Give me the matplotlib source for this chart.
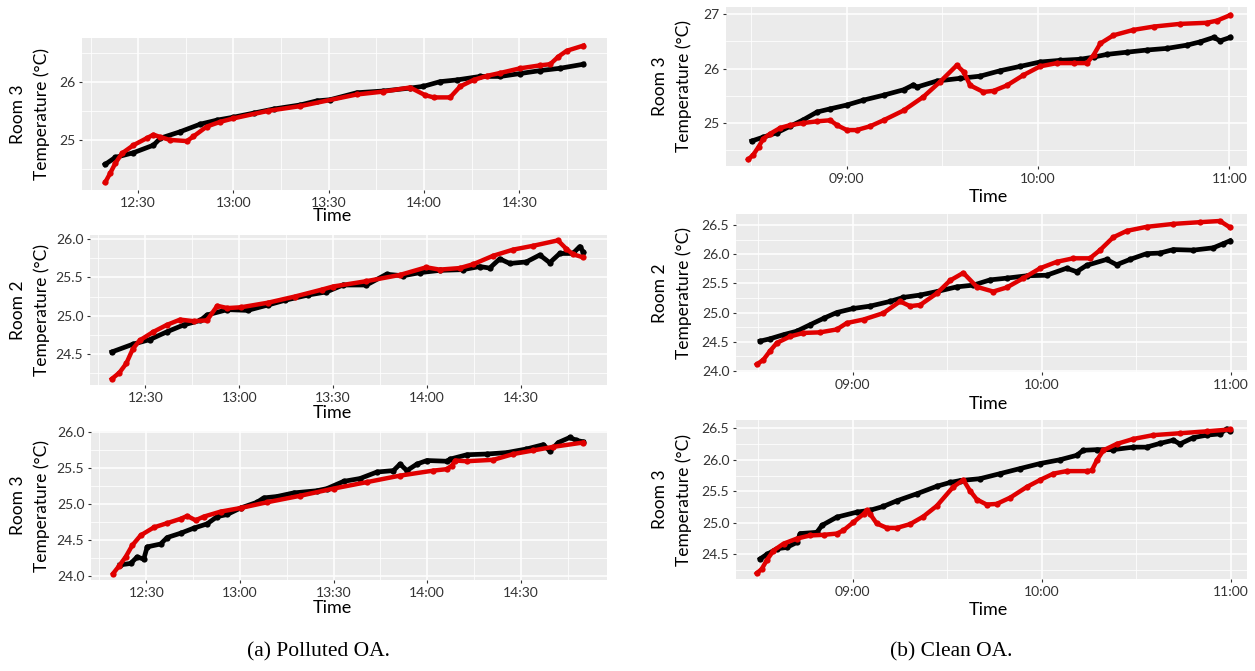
import matplotlib
matplotlib.use("Agg")
import matplotlib.pyplot as plt
from matplotlib.ticker import FixedLocator, FixedFormatter

plt.rcParams['font.family'] = ['Lato', 'DejaVu Sans']


def hm(s):
    h, m = s.split(':')
    return int(h) * 60 + int(m)


# times are minutes after midnight, values in degC
# black = measured, red = simulated

# (a) Polluted OA, Room 3 (top)
a1_meas_t = [739.6, 742.8, 748.5, 754.8, 757.0, 763.2, 769.5, 774.8, 780.0, 786.3, 792.6, 801.0, 806.2,
             810.4, 818.8, 827.2, 835.6, 839.8, 845.0, 850.3, 857.7, 864.0, 870.3, 876.5, 882.8, 890.2]
a1_meas_v = [24.58, 24.70, 24.78, 24.91, 25.03, 25.14, 25.27, 25.34, 25.39, 25.46, 25.53, 25.60, 25.67,
             25.69, 25.81, 25.84, 25.89, 25.92, 26.00, 26.03, 26.09, 26.09, 26.14, 26.19, 26.23, 26.30]
a1_sim_t = [739.6, 741.2, 742.8, 744.9, 748.5, 752.7, 754.8, 756.9, 760.0, 765.3, 767.4, 771.6, 775.8,
            780.0, 791.0, 801.0, 818.8, 827.2, 835.6, 840.3, 843.0, 848.2, 851.4, 855.6, 859.8, 864.0,
            870.3, 876.5, 879.7, 882.3, 884.9, 890.2]
a1_sim_v = [24.27, 24.43, 24.60, 24.77, 24.91, 25.03, 25.09, 25.05, 25.00, 24.98, 25.06, 25.23, 25.31,
            25.37, 25.50, 25.58, 25.78, 25.83, 25.90, 25.77, 25.73, 25.73, 25.92, 26.03, 26.10, 26.15,
            26.23, 26.28, 26.30, 26.43, 26.53, 26.62]

# (a) Polluted OA, Room 2
a2_meas_t = [739.3, 746.0, 751.4, 756.8, 762.2, 767.6, 769.7, 776.2, 782.7, 789.2, 794.5, 802.1, 807.9,
             813.2, 820.7, 827.1, 832.4, 837.7, 844.1, 851.6, 856.9, 860.1, 863.3, 866.5, 871.8, 876.1,
             879.3, 882.5, 886.7, 888.9, 890.0]
a2_meas_v = [24.53, 24.63, 24.69, 24.79, 24.88, 24.94, 25.01, 25.08, 25.07, 25.14, 25.20, 25.27, 25.31,
             25.40, 25.40, 25.54, 25.52, 25.56, 25.59, 25.60, 25.64, 25.62, 25.74, 25.68, 25.70, 25.79,
             25.69, 25.81, 25.81, 25.90, 25.83]
a2_sim_t = [739.3, 741.7, 743.9, 746.0, 748.2, 752.5, 756.8, 761.1, 765.4, 769.7, 773.0, 776.2, 780.5,
            789.2, 797.8, 806.4, 810.0, 820.7, 831.3, 839.8, 844.1, 850.5, 854.8, 861.2, 867.6, 874.0,
            881.9, 884.6, 886.7, 889.9]
a2_sim_v = [24.18, 24.26, 24.38, 24.57, 24.68, 24.79, 24.88, 24.95, 24.93, 24.94, 25.13, 25.10, 25.11,
            25.17, 25.25, 25.34, 25.38, 25.45, 25.53, 25.63, 25.60, 25.62, 25.67, 25.78, 25.86, 25.91,
            25.98, 25.87, 25.80, 25.76]

# (a) Polluted OA, Room 3 (bottom)
a3_meas_t = [741.6, 745.0, 747.1, 749.2, 750.3, 754.6, 756.7, 761.0, 765.2, 769.5, 772.7, 775.9, 780.2,
             785.5, 787.6, 791.9, 797.2, 804.7, 807.9, 813.2, 818.5, 823.9, 829.2, 831.3, 833.5, 836.7,
             839.9, 846.3, 847.4, 852.7, 859.1, 865.5, 871.8, 877.2, 879.3, 882.0, 885.7, 887.8, 890.0]
a3_meas_v = [24.15, 24.17, 24.26, 24.23, 24.40, 24.44, 24.53, 24.59, 24.66, 24.72, 24.82, 24.85, 24.94,
             25.02, 25.08, 25.10, 25.15, 25.18, 25.21, 25.31, 25.35, 25.44, 25.46, 25.55, 25.46, 25.55,
             25.60, 25.59, 25.62, 25.68, 25.69, 25.71, 25.76, 25.82, 25.73, 25.85, 25.92, 25.88, 25.86]
a3_sim_t = [739.4, 741.2, 743.4, 745.5, 748.2, 752.4, 756.7, 761.0, 763.1, 765.8, 768.4, 773.8, 780.2,
            788.7, 799.3, 810.0, 820.7, 831.3, 842.0, 846.3, 847.9, 849.0, 852.7, 861.2, 867.6, 874.0,
            880.4, 890.0]
a3_sim_v = [24.03, 24.13, 24.26, 24.42, 24.56, 24.67, 24.73, 24.79, 24.83, 24.77, 24.82, 24.89, 24.94,
            25.02, 25.11, 25.21, 25.30, 25.39, 25.46, 25.48, 25.53, 25.60, 25.59, 25.61, 25.69, 25.74,
            25.79, 25.85]

# (b) Clean OA, Room 3 (top)
b1_meas_t = [510.2, 513.8, 518.0, 522.2, 526.4, 530.6, 534.8, 540.0, 545.2, 551.5, 557.8, 560.9, 562.0,
             568.2, 575.5, 581.8, 588.1, 594.4, 600.6, 606.9, 613.2, 617.4, 621.6, 627.8, 634.1, 640.4,
             646.7, 650.8, 655.0, 657.1, 660.2]
b1_meas_v = [24.67, 24.74, 24.82, 24.94, 25.06, 25.20, 25.26, 25.33, 25.42, 25.51, 25.61, 25.70, 25.66,
             25.77, 25.82, 25.86, 25.96, 26.04, 26.12, 26.15, 26.17, 26.21, 26.26, 26.30, 26.34, 26.37,
             26.43, 26.49, 26.57, 26.51, 26.57]
b1_sim_t = [509.1, 510.7, 512.3, 513.8, 515.9, 519.1, 522.2, 526.4, 530.6, 534.8, 536.9, 540.0, 543.1,
            547.3, 551.5, 557.8, 564.0, 569.3, 574.5, 576.6, 578.7, 582.8, 586.0, 590.2, 595.4, 600.6,
            605.9, 611.1, 615.3, 617.4, 619.5, 623.6, 629.9, 636.2, 644.5, 652.9, 656.1, 660.2]
b1_sim_v = [24.33, 24.42, 24.56, 24.71, 24.80, 24.91, 24.96, 25.00, 25.03, 25.05, 24.96, 24.87, 24.87,
            24.94, 25.05, 25.23, 25.48, 25.76, 26.06, 25.94, 25.69, 25.57, 25.59, 25.69, 25.88, 26.04,
            26.10, 26.10, 26.10, 26.25, 26.46, 26.61, 26.71, 26.77, 26.82, 26.84, 26.88, 26.98]

# (b) Clean OA, Room 2
b2_meas_t = [510.6, 513.7, 518.0, 522.2, 526.4, 530.7, 534.9, 540.2, 545.5, 551.8, 556.1, 561.4, 566.7,
             573.0, 578.3, 583.6, 588.9, 595.2, 601.6, 607.9, 611.1, 614.3, 620.6, 623.8, 628.0, 633.3,
             637.6, 641.8, 648.1, 654.5, 657.6, 659.8]
b2_meas_v = [24.51, 24.55, 24.62, 24.68, 24.79, 24.90, 25.00, 25.07, 25.11, 25.19, 25.26, 25.30, 25.36,
             25.44, 25.47, 25.56, 25.59, 25.63, 25.64, 25.76, 25.70, 25.81, 25.91, 25.82, 25.91, 26.01,
             26.02, 26.08, 26.07, 26.11, 26.18, 26.23]
b2_sim_t = [509.5, 511.6, 513.7, 515.9, 520.1, 524.3, 529.6, 534.9, 538.1, 543.4, 549.7, 555.0, 558.2,
            561.4, 566.7, 570.9, 575.1, 579.4, 584.6, 588.9, 594.2, 599.5, 604.8, 610.0, 615.3, 618.5,
            622.7, 627.0, 633.3, 641.8, 650.3, 656.6, 659.8]
b2_sim_v = [24.11, 24.19, 24.34, 24.48, 24.59, 24.65, 24.66, 24.71, 24.82, 24.88, 24.99, 25.19, 25.11,
            25.13, 25.33, 25.55, 25.68, 25.44, 25.36, 25.43, 25.59, 25.76, 25.87, 25.93, 25.93, 26.07,
            26.29, 26.40, 26.47, 26.52, 26.55, 26.57, 26.46]

# (b) Clean OA, Room 3 (bottom)
b3_meas_t = [510.6, 512.7, 515.9, 519.0, 522.2, 523.3, 528.6, 530.2, 534.9, 541.3, 545.5, 549.7, 554.0,
             560.3, 566.7, 570.9, 574.1, 580.4, 586.8, 593.1, 599.5, 605.8, 611.1, 613.2, 617.5, 622.7,
             629.1, 633.3, 637.6, 641.8, 643.9, 648.1, 652.4, 656.6, 658.7, 659.8]
b3_meas_v = [24.43, 24.50, 24.59, 24.61, 24.69, 24.83, 24.85, 24.96, 25.09, 25.17, 25.20, 25.26, 25.35,
             25.46, 25.58, 25.64, 25.67, 25.70, 25.78, 25.86, 25.94, 26.00, 26.07, 26.15, 26.16, 26.16,
             26.20, 26.20, 26.26, 26.31, 26.25, 26.35, 26.39, 26.41, 26.49, 26.46]
b3_sim_t = [509.5, 511.1, 512.7, 514.8, 518.0, 522.2, 526.4, 530.7, 534.9, 537.0, 540.2, 543.4, 544.4,
            545.5, 547.6, 550.8, 554.0, 558.2, 562.4, 566.7, 571.9, 575.1, 577.2, 579.4, 582.5, 585.7,
            590.0, 595.3, 599.5, 603.7, 607.9, 614.3, 615.9, 617.5, 619.6, 623.8, 629.1, 635.4, 643.9,
            652.4, 659.8]
b3_sim_v = [24.20, 24.27, 24.41, 24.56, 24.67, 24.75, 24.80, 24.81, 24.83, 24.88, 25.01, 25.14, 25.20,
            25.14, 24.99, 24.92, 24.92, 24.98, 25.10, 25.27, 25.57, 25.68, 25.51, 25.37, 25.29, 25.30,
            25.40, 25.57, 25.68, 25.78, 25.82, 25.82, 25.83, 25.99, 26.15, 26.25, 26.33, 26.39, 26.42,
            26.45, 26.48]

# tick labels
a_xticks = ['12:30', '13:00', '13:30', '14:00', '14:30']
a_xminor = ['12:15', '12:45', '13:15', '13:45', '14:15', '14:45']
b_xticks = ['09:00', '10:00', '11:00']
b_xminor = ['08:30', '09:30', '10:30']

W, H = 1255, 671
fig = plt.figure(figsize=(W / 100, H / 100), dpi=100)

BG = '#EBEBEB'
RED = '#E00000'
TXT = '#333333'


def make_ax(box):
    l, t, r, b = box
    ax = fig.add_axes([l / W, 1 - b / H, (r - l) / W, (b - t) / H])
    ax.set_facecolor(BG)
    for s in ax.spines.values():
        s.set_visible(False)
    ax.set_axisbelow(True)
    ax.grid(which='major', color='white', lw=1.1)
    ax.grid(which='minor', color='white', lw=0.55)
    ax.tick_params(which='major', length=2.3, width=0.8, color=TXT, labelcolor=TXT,
                   labelsize=10, pad=2.5)
    ax.tick_params(which='minor', length=0)
    return ax


panels = [
    # box (l, t, r, b) px, data, xlim, ylim, yticks, yminor, fmt, room, ylabel x's, Time pos
    dict(box=(82, 38, 607, 190), d=(a1_meas_t, a1_meas_v, a1_sim_t, a1_sim_v), xl=(732.3, 897.6),
         yl=(24.14, 26.75), yt=[25, 26], ym=[24.5, 25.5, 26.5], fmt='{:.0f}', room='Room 3',
         xt=a_xticks, xm=a_xminor, lab=(18, 42), time=(332, 216)),
    dict(box=(90, 235, 607, 385), d=(a2_meas_t, a2_meas_v, a2_sim_t, a2_sim_v), xl=(732.3, 897.6),
         yl=(24.10, 26.05), yt=[24.5, 25.0, 25.5, 26.0], ym=[24.25, 24.75, 25.25, 25.75], fmt='{:.1f}',
         room='Room 2', xt=a_xticks, xm=a_xminor, lab=(18, 42), time=(332, 413)),
    dict(box=(91, 431, 607, 580), d=(a3_meas_t, a3_meas_v, a3_sim_t, a3_sim_v), xl=(732.3, 897.6),
         yl=(23.94, 26.01), yt=[24.0, 24.5, 25.0, 25.5, 26.0], ym=[24.25, 24.75, 25.25, 25.75],
         fmt='{:.1f}', room='Room 3', xt=a_xticks, xm=a_xminor, lab=(18, 42), time=(332, 608)),
    dict(box=(726, 7, 1247, 166), d=(b1_meas_t, b1_meas_v, b1_sim_t, b1_sim_v), xl=(502.1, 665.5),
         yl=(24.21, 27.13), yt=[25, 26, 27], ym=[24.5, 25.5, 26.5], fmt='{:.0f}', room='Room 3',
         xt=b_xticks, xm=b_xminor, lab=(660, 684), time=(988, 197)),
    dict(box=(736, 214, 1247, 372), d=(b2_meas_t, b2_meas_v, b2_sim_t, b2_sim_v), xl=(502.9, 665.2),
         yl=(23.98, 26.69), yt=[24.0, 24.5, 25.0, 25.5, 26.0, 26.5],
         ym=[24.25, 24.75, 25.25, 25.75, 26.25], fmt='{:.1f}', room='Room 2',
         xt=b_xticks, xm=b_xminor, lab=(660, 684), time=(988, 404)),
    dict(box=(736, 420, 1247, 579), d=(b3_meas_t, b3_meas_v, b3_sim_t, b3_sim_v), xl=(502.9, 665.2),
         yl=(24.11, 26.63), yt=[24.5, 25.0, 25.5, 26.0, 26.5], ym=[24.25, 24.75, 25.25, 25.75, 26.25],
         fmt='{:.1f}', room='Room 3', xt=b_xticks, xm=b_xminor, lab=(660, 684), time=(988, 610)),
]

for p in panels:
    ax = make_ax(p['box'])
    mt, mv, st, sv = p['d']
    ax.plot(mt, mv, color='black', lw=3.4, marker='o', ms=4.5, mew=0, solid_joinstyle='round')
    ax.plot(st, sv, color=RED, lw=3.2, marker='o', ms=4.5, mew=0, solid_joinstyle='round')
    ax.set_xlim(*p['xl'])
    ax.set_ylim(*p['yl'])
    ax.xaxis.set_major_locator(FixedLocator([hm(s) for s in p['xt']]))
    ax.xaxis.set_major_formatter(FixedFormatter(p['xt']))
    ax.xaxis.set_minor_locator(FixedLocator([hm(s) for s in p['xm']]))
    ax.yaxis.set_major_locator(FixedLocator(p['yt']))
    ax.yaxis.set_major_formatter(FixedFormatter([p['fmt'].format(v) for v in p['yt']]))
    ax.yaxis.set_minor_locator(FixedLocator(p['ym']))

    l, t, r, b = p['box']
    yc = 1 - (t + b) / 2 / H
    fig.text(p['lab'][0] / W, yc, p['room'], rotation=90, ha='center', va='center',
             fontsize=12.5, color='black')
    fig.text(p['lab'][1] / W, yc, 'Temperature (°C)', rotation=90, ha='center', va='center',
             fontsize=12.5, color='black')
    fig.text(p['time'][0] / W, 1 - p['time'][1] / H, 'Time', ha='center', va='center',
             fontsize=13, color='black')

fig.text(318 / W, 1 - 652 / H, '(a) Polluted OA.', ha='center', va='center',
         fontsize=15.5, family='Liberation Serif')
fig.text(951 / W, 1 - 652 / H, '(b) Clean OA.', ha='center', va='center',
         fontsize=15.5, family='Liberation Serif')

fig.savefig('out.png', dpi=100, facecolor='white')
